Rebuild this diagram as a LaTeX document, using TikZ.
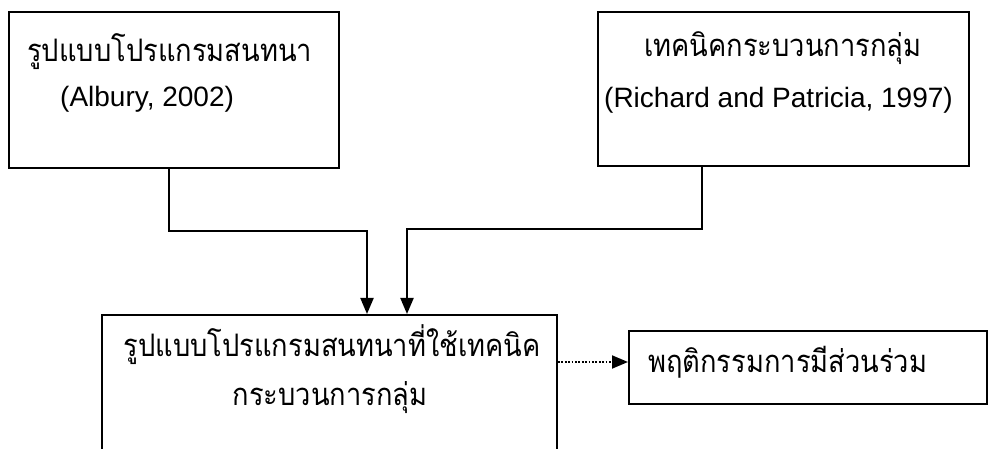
\documentclass[tikz,border=0pt]{standalone}
\usepackage{fontspec}
\setmainfont{Liberation Sans}
\newfontfamily\thai[Script=Thai,FakeStretch=0.88]{Loma}
\usetikzlibrary{arrows.meta,calc}
\begin{document}
\begin{tikzpicture}[x=1pt,y=-1pt,
  box/.style={draw, line width=2pt, rectangle, inner sep=0pt},
  conn/.style={line width=2pt, -{Triangle[length=16pt,width=13pt]}},
  dotarrow/.style={line width=1.8pt, dash pattern=on 1.8pt off 1.6pt, -{Triangle[length=16pt,width=13pt]}},
  th/.style={font=\thai\fontsize{31}{33}\selectfont, inner sep=0pt},
  en/.style={font=\fontsize{28}{30}\selectfont, inner sep=0pt}]
\useasboundingbox (0,0) rectangle (989,449);
\clip (0,0) rectangle (989,449);
% boxes
\node[box, minimum width=330pt, minimum height=156pt] (b1) at (174,90) {};
\node[box, minimum width=371pt, minimum height=154pt] (b2) at (783.5,89) {};
\node[box, minimum width=455pt, minimum height=160pt] (b3) at (329.5,395) {};
\node[box, minimum width=358pt, minimum height=73pt] (b4) at (808,367.5) {};
% texts
\node[th, anchor=base west] (t1a) at (27,62) {รูปแบบโปรแกรมสนทนา};
\node[en, anchor=base west] (t1b) at (60,107) {(Albury, 2002)};
\node[th, anchor=base] (t2a) at (783,57) {เทคนิคกระบวนการกลุ่ม};
\node[en, anchor=base] (t2b) at (778.5,108) {(Richard and Patricia, 1997)};
\node[th, anchor=base] (t3a) at (332,356) {รูปแบบโปรแกรมสนทนาที่ใช้เทคนิค};
\node[th, anchor=base] (t3b) at (330,406) {กระบวนการกลุ่ม};
\node[th, anchor=base west] (t4) at (648,373) {พฤติกรรมการมีส่วนร่วม};
% connectors
\draw[conn] ($(b1.south west)+(161,0)$) |- ($(b1.south west)+(161,62)$) -| ($(b3.north west)+(266,0)$);
\draw[conn] ($(b2.south west)+(105,0)$) |- ($(b2.south west)+(105,62)$) -| ($(b3.north west)+(306,0)$);
\draw[dotarrow] (b3.east |- 0,362) -- (b4.west |- 0,362);
\end{tikzpicture}
\end{document}
